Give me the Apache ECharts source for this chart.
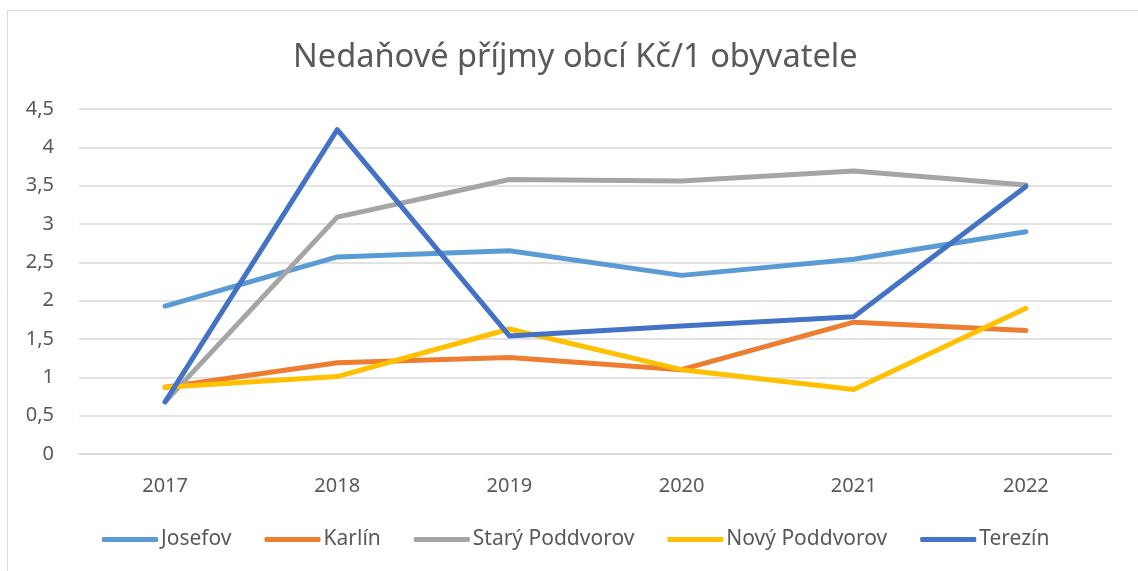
<!DOCTYPE html>
<html><head><meta charset="utf-8">
<script src="https://cdn.jsdelivr.net/npm/echarts@6/dist/echarts.min.js"></script>
<style>html,body{margin:0;padding:0;background:#fff}#c{width:1138px;height:571px}</style>
</head><body><div id="c"></div>
<script>
const years = ['2017','2018','2019','2020','2021','2022'];
const josefov = [1.93, 2.57, 2.65, 2.33, 2.54, 2.90];
const karlin = [0.87, 1.19, 1.26, 1.10, 1.72, 1.61];
const staryPoddvorov = [0.68, 3.09, 3.58, 3.56, 3.69, 3.51];
const novyPoddvorov = [0.87, 1.01, 1.63, 1.10, 0.84, 1.90];
const terezin = [0.68, 4.23, 1.54, 1.67, 1.79, 3.49];
const seriesNames = ['Josefov','Karlín','Starý Poddvorov','Nový Poddvorov','Terezín'];
const colors = ['#5B9BD5','#ED7D31','#A5A5A5','#FFC000','#4472C4'];
const dataSets = [josefov, karlin, staryPoddvorov, novyPoddvorov, terezin];

const chart = echarts.init(document.getElementById('c'));
const font = 'Noto Sans';
chart.setOption({
  animation: false,
  color: colors,
  title: {text: 'Nedaňové příjmy obcí Kč/1 obyvatele', left: 288, top: 36,
    textStyle: {fontFamily: font, fontSize: 32.6, fontWeight: 'normal', color: '#595959'}},
  grid: {left: 79, right: 26, top: 109, bottom: 117},
  legend: {top: 524, left: 97, itemWidth: 56, itemHeight: 5, itemGap: 33,
    icon: 'roundRect',
    textStyle: {fontFamily: font, fontSize: 21, color: '#595959', padding: [0,0,0,-2]},
    data: seriesNames},
  xAxis: {type: 'category', data: years, boundaryGap: true,
    axisLine: {lineStyle: {color: '#D9D9D9', width: 1.5}}, axisTick: {show: false},
    axisLabel: {fontFamily: font, fontSize: 20, color: '#595959', margin: 22}},
  yAxis: {type: 'value', min: 0, max: 4.5, interval: 0.5,
    axisLine: {show: false}, axisTick: {show: false},
    splitLine: {lineStyle: {color: '#D9D9D9', width: 1.5}},
    axisLabel: {fontFamily: font, fontSize: 20, color: '#595959', margin: 25,
      formatter: v => String(v).replace('.', ',')}},
  graphic: [{type: 'rect', shape: {x: 7.5, y: 10.5, width: 1200, height: 1200},
    style: {fill: 'none', stroke: '#D9D9D9', lineWidth: 1}}],
  series: dataSets.map((d, i) => ({
    name: seriesNames[i], type: 'line', data: d, symbol: 'none',
    lineStyle: {width: 5, cap: 'round', join: 'round'}, z: 2 + i
  }))
});
</script></body></html>
